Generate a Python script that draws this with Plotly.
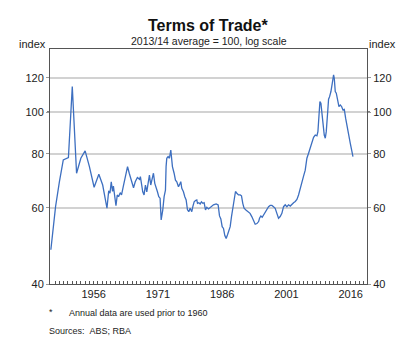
import math
import plotly.graph_objects as go

# ---- data ----
annual_years = [1946.0, 1947.1, 1948.0, 1948.9, 1950.1, 1951.0, 1952.0, 1953.0,
                1954.0, 1955.0, 1956.1, 1957.2, 1958.1, 1959.1]
annual_values = [48.0, 60.4, 69.0, 77.5, 78.5, 114.6, 72.2, 78.2,
                 81.3, 74.8, 67.0, 71.8, 67.8, 59.9]

quarterly_years = [
    1959.5, 1959.8, 1960.1, 1960.4, 1960.6, 1960.9, 1961.2, 1961.5, 1961.8, 1962.2,
    1962.5, 1962.9, 1963.4, 1963.9, 1964.3, 1964.8, 1965.3, 1965.7, 1966.2, 1966.7,
    1966.9, 1967.45, 1967.76, 1968.08, 1968.39, 1968.7, 1969.01, 1969.32, 1969.63, 1969.95,
    1970.26, 1970.57, 1970.88, 1971.19, 1971.5, 1971.75, 1972.13, 1972.44, 1972.75, 1972.9,
    1973.06, 1973.37, 1973.68, 1974.0, 1974.15, 1974.38, 1974.77, 1975.09, 1975.4, 1975.79,
    1976.17, 1976.33, 1976.57, 1976.95, 1977.27, 1977.58, 1977.89, 1978.2, 1978.51, 1978.9,
    1979.14, 1979.45, 1979.76, 1980.07, 1980.23, 1980.54, 1980.85, 1981.16, 1981.47, 1981.78,
    1982.1, 1982.41, 1982.8, 1983.19, 1983.5, 1983.96, 1984.59, 1985.05, 1985.37, 1985.68,
    1985.99, 1986.3, 1986.61, 1986.92, 1987.24, 1987.55, 1987.86, 1988.17, 1988.5, 1988.8,
    1989.1, 1989.42, 1989.8, 1990.2, 1990.5, 1990.8, 1991.1, 1991.6, 1992.1, 1992.5,
    1992.9, 1993.3, 1993.7, 1994.1, 1994.5, 1994.71, 1995.02, 1995.34, 1995.65, 1996.04,
    1996.43, 1996.82, 1997.2, 1997.6, 1997.98, 1998.37, 1998.76, 1999.15, 1999.54, 1999.93,
    2000.32, 2000.71, 2001.1, 2001.49, 2001.88, 2002.27, 2002.66, 2003.05, 2003.44, 2003.82,
    2004.21, 2004.6, 2004.99, 2005.38, 2005.77, 2006.16, 2006.55, 2006.94, 2007.33, 2007.72,
    2008.11, 2008.34, 2008.58, 2008.81, 2009.04, 2009.28, 2009.51, 2009.82, 2010.06, 2010.29,
    2010.6, 2010.83, 2011.07, 2011.38, 2011.69, 2012.0, 2012.16, 2012.39, 2012.63, 2012.94,
    2013.25, 2013.56, 2013.87, 2014.18, 2014.5, 2014.81, 2015.12, 2015.43, 2015.9, 2016.29,
    2016.52]
quarterly_values = [
    65.7, 64.9, 69.0, 65.5, 67.4, 62.6, 60.7, 64.3, 63.7, 65.1,
    64.3, 67.2, 70.9, 74.8, 72.2, 69.7, 66.8, 69.0, 70.6, 69.9,
    70.9, 65.4, 64.3, 67.8, 65.4, 68.4, 71.5, 67.8, 69.6, 72.2,
    68.4, 67.2, 65.4, 63.7, 63.2, 56.3, 59.4, 63.7, 66.0, 74.8,
    78.2, 78.9, 78.2, 81.7, 77.0, 74.8, 72.2, 69.6, 69.0, 67.2,
    68.4, 69.0, 66.6, 65.4, 63.7, 62.6, 59.4, 58.8, 59.9, 58.8,
    60.4, 62.0, 62.4, 62.6, 61.5, 61.7, 61.3, 62.0, 61.5, 61.7,
    59.4, 60.2, 59.7, 60.2, 60.4, 61.0, 61.3, 61.0, 57.5, 56.6,
    54.3, 53.8, 51.8, 51.0, 52.0, 53.3, 54.3, 57.3, 60.4, 62.6,
    65.5, 64.9, 64.3, 64.3, 64.0, 61.5, 59.9, 59.3, 58.8, 58.3,
    57.3, 55.8, 55.0, 55.2, 55.8, 56.8, 57.5, 57.1, 57.8, 58.3,
    59.4, 60.4, 60.8, 60.8, 60.4, 59.9, 58.3, 56.8, 57.3, 58.3,
    60.4, 61.0, 60.4, 61.0, 60.6, 61.3, 61.7, 62.1, 62.8, 64.3,
    66.6, 69.7, 71.1, 73.4, 78.2, 80.3, 82.5, 84.7, 87.4, 88.5,
    88.1, 90.1, 95.9, 105.8, 104.8, 99.4, 91.8, 88.5, 87.0, 90.1,
    99.4, 107.1, 108.6, 111.6, 116.6, 121.9, 119.8, 111.6, 110.6, 105.8,
    103.0, 103.9, 103.0, 101.2, 101.5, 96.8, 92.6, 89.3, 84.7, 81.0,
    78.9]

y_ticks = [40, 60, 80, 100, 120]
x_ticks = [1956, 1971, 1986, 2001, 2016]
x_range = [1945.8, 2019.8]
y_range = [40, 140]

years = annual_years + quarterly_years
values = annual_values + quarterly_values

FONT = "Arial, 'Liberation Sans', sans-serif"
AXIS = "#555555"
LINE = "#3d6fc0"

fig = go.Figure()
fig.add_trace(go.Scatter(x=years, y=values, mode="lines",
                         line=dict(color=LINE, width=1.3),
                         showlegend=False, hoverinfo="skip"))
fig.add_trace(go.Scatter(x=years, y=values, mode="lines", yaxis="y2",
                         line=dict(color=LINE, width=1.3), opacity=0,
                         showlegend=False, hoverinfo="skip"))

yr = [math.log10(y_range[0]), math.log10(y_range[1])]

fig.update_layout(
    width=416, height=346,
    margin=dict(l=50, r=49, t=49, b=62, pad=0),
    paper_bgcolor="white", plot_bgcolor="white",
    font=dict(family=FONT, size=11, color="#222222"),
    xaxis=dict(range=x_range, tickvals=x_ticks, ticktext=[str(v) for v in x_ticks],
               ticks="inside", ticklen=3, tickcolor=AXIS, tickwidth=1,
               showgrid=False, zeroline=False,
               showline=True, linecolor=AXIS, linewidth=1, mirror=True,
               tickfont=dict(size=11, color="#222222"),
               minor=dict(tick0=1946, dtick=1, ticks="inside", ticklen=3,
                          tickcolor=AXIS, tickwidth=1, showgrid=False)),
    yaxis=dict(type="log", range=yr, tickvals=y_ticks, ticktext=[str(v) for v in y_ticks],
               ticks="outside", ticklen=3, tickcolor="#999999",
               showgrid=True, gridcolor="#d2d2d2", gridwidth=1.5, zeroline=False,
               showline=True, linecolor=AXIS, linewidth=1,
               tickfont=dict(size=11, color="#222222")),
    yaxis2=dict(type="log", range=yr, overlaying="y", side="right",
                tickvals=y_ticks, ticktext=[str(v) for v in y_ticks],
                ticks="outside", ticklen=3, tickcolor="#999999",
                showgrid=False, zeroline=False,
                showline=True, linecolor=AXIS, linewidth=1,
                tickfont=dict(size=11, color="#222222")),
    shapes=[dict(type="line", xref="paper", yref="y", x0=-0.0095, x1=1.0095,
                 y0=100, y1=100, line=dict(color="black", width=1.2), layer="between")],
)

ph = 346 - 49 - 62
pw = 416 - 50 - 49

def py(pix):
    return (346 - 62 - pix) / ph

def px(pix):
    return (pix - 50) / pw

fig.add_annotation(text="<b>Terms of Trade*</b>", xref="paper", yref="paper",
                   x=0.5, y=py(25), xanchor="center", yanchor="middle",
                   showarrow=False, font=dict(size=16, color="#111111"))
fig.add_annotation(text="2013/14 average = 100, log scale", xref="paper", yref="paper",
                   x=0.5, y=py(41), xanchor="center", yanchor="middle",
                   showarrow=False, font=dict(size=10.5, color="#222222"))
fig.add_annotation(text="index", xref="paper", yref="paper", x=px(48), y=py(44),
                   xanchor="right", yanchor="middle", showarrow=False,
                   font=dict(size=11, color="#222222"))
fig.add_annotation(text="index", xref="paper", yref="paper", x=px(367), y=py(44),
                   xanchor="left", yanchor="middle", showarrow=False,
                   font=dict(size=11, color="#222222"))
fig.add_annotation(text="*", xref="paper", yref="paper", x=px(47), y=py(312),
                   xanchor="left", yanchor="middle", showarrow=False,
                   font=dict(size=9, color="#222222"))
fig.add_annotation(text="Annual data are used prior to 1960", xref="paper", yref="paper",
                   x=px(67), y=py(313), xanchor="left", yanchor="middle", showarrow=False,
                   font=dict(size=9, color="#222222"))
fig.add_annotation(text="Sources:\u00a0\u00a0ABS; RBA", xref="paper", yref="paper",
                   x=px(47), y=py(331), xanchor="left", yanchor="middle", showarrow=False,
                   font=dict(size=9, color="#222222"))

fig.write_html("out.html")
